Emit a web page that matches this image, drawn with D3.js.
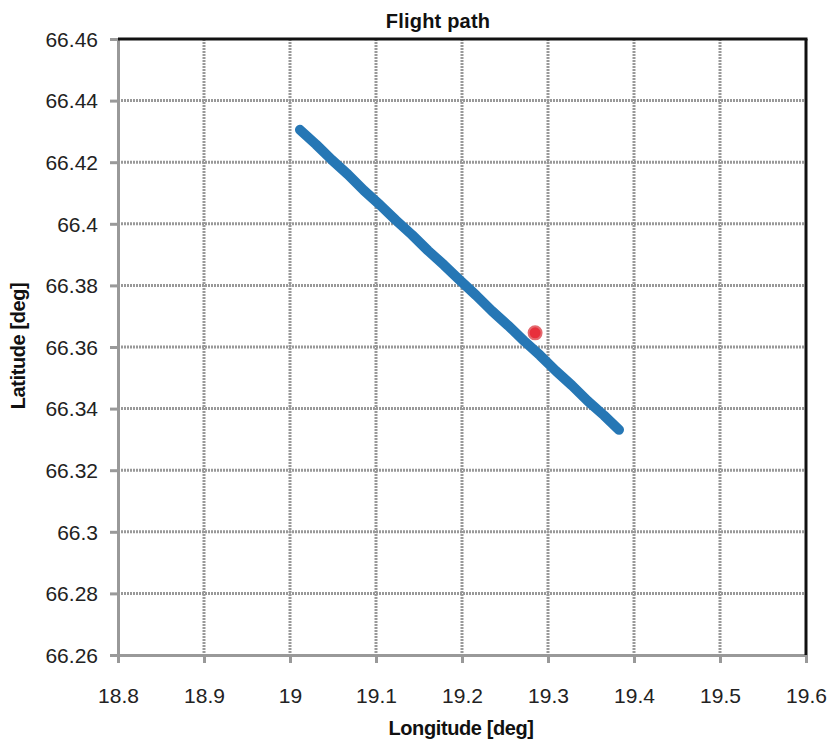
<!DOCTYPE html>
<html>
<head>
<meta charset="utf-8">
<script src="https://cdn.jsdelivr.net/npm/d3@7"></script>
<style>
  html, body { margin: 0; padding: 0; background: #fff; }
  svg { display: block; font-family: "Liberation Sans", Arial, sans-serif; }
</style>
</head>
<body>
<svg id="chart" width="830" height="742"></svg>
<script>
// Recorded track (longitude, latitude in degrees)
const trackLon = [19.0116, 19.0302, 19.0488, 19.0674, 19.0860, 19.1047, 19.1233, 19.1419,
                  19.1605, 19.1791, 19.1977, 19.2163, 19.2349, 19.2535, 19.2721, 19.2907,
                  19.3093, 19.3279, 19.3465, 19.3651, 19.3826];
const trackLat = [66.4305, 66.4258, 66.4207, 66.4160, 66.4108, 66.4061, 66.4011, 66.3964,
                  66.3913, 66.3866, 66.3816, 66.3768, 66.3717, 66.3670, 66.3620, 66.3573,
                  66.3522, 66.3475, 66.3424, 66.3378, 66.3331];
// Reference point
const refLon = [19.285];
const refLat = [66.3646];

// Axis ticks
const xTicks = [18.8, 18.9, 19.0, 19.1, 19.2, 19.3, 19.4, 19.5, 19.6];
const yTicks = [66.26, 66.28, 66.30, 66.32, 66.34, 66.36, 66.38, 66.40, 66.42, 66.44, 66.46];
const xTickLabels = ["18.8", "18.9", "19", "19.1", "19.2", "19.3", "19.4", "19.5", "19.6"];
const yTickLabels = ["66.26", "66.28", "66.3", "66.32", "66.34", "66.36", "66.38", "66.4", "66.42", "66.44", "66.46"];

const chartTitle = "Flight path";
const xTitle = "Longitude [deg]";
const yTitle = "Latitude [deg]";

const svg = d3.select("#chart");
const plotLeft = 118, plotRight = 806, plotTop = 39, plotBottom = 655;

const x = d3.scaleLinear().domain([18.8, 19.6]).range([plotLeft, plotRight]);
const y = d3.scaleLinear().domain([66.26, 66.46]).range([plotBottom, plotTop]);

const gridColor = "#999";

// Grid lines
svg.append("g").selectAll("line").data(xTicks.slice(1, -1)).join("line")
  .attr("x1", d => x(d)).attr("x2", d => x(d))
  .attr("y1", plotTop).attr("y2", plotBottom)
  .attr("stroke", gridColor).attr("stroke-width", 3).attr("stroke-dasharray", "2,1");
svg.append("g").selectAll("line").data(yTicks.slice(1, -1)).join("line")
  .attr("x1", plotLeft).attr("x2", plotRight)
  .attr("y1", d => y(d)).attr("y2", d => y(d))
  .attr("stroke", gridColor).attr("stroke-width", 3).attr("stroke-dasharray", "2,1");

// Axes
const xAxis = d3.axisBottom(x).tickValues(xTicks).tickSize(8).tickSizeOuter(0)
  .tickFormat((d, i) => xTickLabels[i]);
const yAxis = d3.axisLeft(y).tickValues(yTicks).tickSize(8).tickSizeOuter(0)
  .tickFormat((d, i) => yTickLabels[i]);

const gx = svg.append("g").attr("transform", `translate(0,${plotBottom})`).call(xAxis);
const gy = svg.append("g").attr("transform", `translate(${plotLeft},0)`).call(yAxis);
[gx, gy].forEach(g => {
  g.select(".domain").attr("stroke", "#999").attr("stroke-width", 3);
  g.selectAll(".tick line").attr("stroke", "#999").attr("stroke-width", 3);
  g.selectAll(".tick text").attr("fill", "#222").attr("font-size", 21)
    .attr("font-family", "Liberation Sans, Arial, sans-serif");
});
gx.selectAll(".tick text").attr("dy", 0).attr("y", 48);
gy.selectAll(".tick text").attr("x", -20).attr("dy", "0.35em");

// Top and right frame
svg.append("line").attr("x1", plotLeft).attr("x2", plotRight + 1.5).attr("y1", plotTop).attr("y2", plotTop)
  .attr("stroke", "#111").attr("stroke-width", 3);
svg.append("line").attr("x1", plotRight).attr("x2", plotRight).attr("y1", plotTop).attr("y2", plotBottom)
  .attr("stroke", "#111").attr("stroke-width", 3);

// Track
const track = trackLon.map((lon, i) => [lon, trackLat[i]]);
svg.append("path")
  .datum(track)
  .attr("d", d3.line().x(d => x(d[0])).y(d => y(d[1])))
  .attr("fill", "none")
  .attr("stroke", "#2677b5")
  .attr("stroke-width", 10)
  .attr("stroke-linecap", "round")
  .attr("stroke-linejoin", "round");

// Reference point
svg.append("g").selectAll("circle").data(refLon.map((lon, i) => [lon, refLat[i]])).join("circle")
  .attr("cx", d => x(d[0])).attr("cy", d => y(d[1])).attr("r", 6.5)
  .attr("fill", "#e8303c").attr("stroke", "#e46a70").attr("stroke-width", 2);

// Titles
svg.append("text").attr("x", 438).attr("y", 28).attr("text-anchor", "middle")
  .attr("font-size", 20).attr("font-weight", "bold").attr("fill", "#111")
  .attr("letter-spacing", 0.2).text(chartTitle);
svg.append("text").attr("x", 461).attr("y", 735).attr("text-anchor", "middle")
  .attr("font-size", 20).attr("font-weight", "bold").attr("fill", "#111")
  .attr("letter-spacing", -0.4).text(xTitle);
svg.append("text").attr("transform", `translate(25,346) rotate(-90)`).attr("text-anchor", "middle")
  .attr("font-size", 20).attr("font-weight", "bold").attr("fill", "#111")
  .attr("letter-spacing", -0.4).text(yTitle);
</script>
</body>
</html>
